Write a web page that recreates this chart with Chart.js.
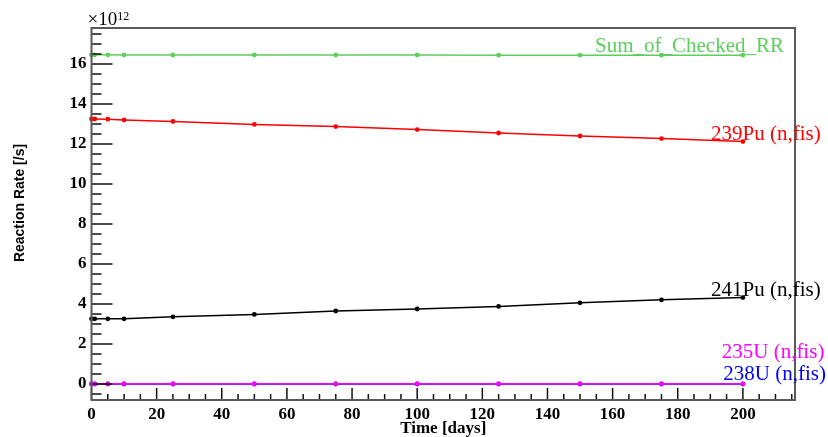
<!DOCTYPE html>
<html>
<head>
<meta charset="utf-8">
<script src="https://cdn.jsdelivr.net/npm/chart.js@4/dist/chart.umd.min.js"></script>
<style>
html, body { margin: 0; padding: 0; background: #fff; }
</style>
</head>
<body>
<canvas id="rr" width="828" height="437"></canvas>
<script>
// burnup days and reaction rates (units of 1e12 /s)
const days = [0, 1, 5, 10, 25, 50, 75, 100, 125, 150, 175, 200];
const sumChecked = [16.46, 16.46, 16.46, 16.45, 16.45, 16.45, 16.45, 16.45, 16.44, 16.44, 16.44, 16.44];
const pu239 = [13.25, 13.25, 13.24, 13.20, 13.13, 12.98, 12.87, 12.72, 12.55, 12.40, 12.27, 12.12];
const pu241 = [3.26, 3.26, 3.26, 3.26, 3.36, 3.48, 3.65, 3.75, 3.88, 4.06, 4.21, 4.32];
const u235 = [0.01, 0.01, 0.01, 0.01, 0.01, 0.01, 0.01, 0.01, 0.01, 0.01, 0.01, 0.01];
const u238 = [0.00, 0.00, 0.00, 0.00, 0.00, 0.00, 0.00, 0.00, 0.00, 0.00, 0.00, 0.00];

const xTicks = [0, 20, 40, 60, 80, 100, 120, 140, 160, 180, 200];
const yTicks = [0, 2, 4, 6, 8, 10, 12, 14, 16];

// label text placed in data coords, like TLatex in the original
const seriesLabels = [
  { text: 'Sum_of_Checked_RR', color: '#5ccf5c', x: 154.6, y: 16.6 },
  { text: '239Pu (n,fis)', color: '#ff0000', x: 190.2, y: 12.2 },
  { text: '241Pu (n,fis)', color: '#000000', x: 190.2, y: 4.38 },
  { text: '235U (n,fis)', color: '#ff00ff', x: 193.5, y: 1.3 },
  { text: '238U (n,fis)', color: '#0000ff', x: 194.0, y: 0.21 }
];

function mkSet(label, data, color){
  return {
    label: label,
    data: days.map((d, i) => ({ x: d, y: data[i] })),
    borderColor: color,
    backgroundColor: color,
    borderWidth: 1.5,
    pointRadius: 2.4,
    pointBorderWidth: 0,
    pointBackgroundColor: color,
    tension: 0,
    clip: false
  };
}

const rootFrame = {
  id: 'rootFrame',
  afterDraw(chart){
    const ctx = chart.ctx;
    const a = chart.chartArea;
    const xs = chart.scales.x, ys = chart.scales.y;
    ctx.save();
    // inward tick marks
    ctx.strokeStyle = '#111';
    ctx.lineWidth = 1.5;
    ctx.beginPath();
    for (let v = xs.min; v <= xs.max + 1e-9; v += 5){
      if (v < 0) continue;
      const px = xs.getPixelForValue(v);
      const len = (v % 20 === 0) ? 12 : 6;
      ctx.moveTo(px, a.bottom); ctx.lineTo(px, a.bottom - len);
    }
    for (let v = -0.5; v <= ys.max; v += 0.5){
      const py = ys.getPixelForValue(v);
      const len = (Math.abs(v % 2) < 1e-9) ? 21 : 10;
      ctx.moveTo(a.left, py); ctx.lineTo(a.left + len, py);
    }
    ctx.stroke();
    // frame
    ctx.strokeStyle = '#5a5a5a';
    ctx.lineWidth = 2;
    ctx.strokeRect(a.left, a.top, a.right - a.left, a.bottom - a.top);

    // exponent
    ctx.fillStyle = '#000';
    ctx.textBaseline = 'alphabetic';
    ctx.textAlign = 'left';
    ctx.font = '19px "Liberation Serif"';
    const ex = a.left - 4;
    ctx.fillText('\u00d710', ex, a.top - 3);
    const w = ctx.measureText('\u00d710').width;
    ctx.font = '12px "Liberation Serif"';
    ctx.fillText('12', ex + w, a.top - 8);

    // y title
    ctx.save();
    ctx.translate(20, 203);
    ctx.rotate(-Math.PI / 2);
    ctx.textAlign = 'center';
    ctx.textBaseline = 'middle';
    ctx.font = 'bold 14px "Liberation Sans"';
    ctx.fillText('Reaction Rate [/s]', 0, 0);
    ctx.restore();

    // series labels
    ctx.font = '21px "Liberation Serif"';
    ctx.textAlign = 'left';
    ctx.textBaseline = 'alphabetic';
    seriesLabels.forEach(l => {
      ctx.fillStyle = l.color;
      ctx.fillText(l.text, xs.getPixelForValue(l.x), ys.getPixelForValue(l.y));
    });
    ctx.restore();
  }
};

new Chart(document.getElementById('rr'), {
  type: 'line',
  data: {
    datasets: [
      mkSet('Sum_of_Checked_RR', sumChecked, '#5ccf5c'),
      mkSet('239Pu (n,fis)', pu239, '#ff0000'),
      mkSet('241Pu (n,fis)', pu241, '#000000'),
      mkSet('235U (n,fis)', u235, '#ff00ff'),
      mkSet('238U (n,fis)', u238, '#0000ff')
    ]
  },
  options: {
    responsive: false,
    animation: false,
    layout: { padding: { top: 28, right: 33, left: 0, bottom: 0 } },
    plugins: { legend: { display: false }, tooltip: { enabled: false } },
    scales: {
      x: {
        type: 'linear',
        min: 0,
        max: 216,
        afterFit: s => { s.height = 37; },
        afterBuildTicks: s => { s.ticks = xTicks.map(v => ({ value: v })); },
        grid: { display: false, drawTicks: false },
        border: { display: false },
        ticks: {
          padding: 4,
          color: '#000',
          maxRotation: 0,
          font: { family: 'Liberation Serif', weight: 'bold', size: 17 }
        },
        title: {
          display: true,
          text: 'Time [days]',
          color: '#000',
          padding: 0,
          font: { family: 'Liberation Serif', weight: 'bold', size: 17, lineHeight: 1 }
        }
      },
      y: {
        type: 'linear',
        min: -0.8,
        max: 17.8,
        afterFit: s => { s.width = 91.5; },
        afterBuildTicks: s => { s.ticks = yTicks.map(v => ({ value: v })); },
        grid: { display: false, drawTicks: false },
        border: { display: false },
        ticks: {
          padding: 5,
          color: '#000',
          font: { family: 'Liberation Serif', weight: 'bold', size: 17 }
        }
      }
    }
  },
  plugins: [rootFrame]
});
</script>
</body>
</html>
